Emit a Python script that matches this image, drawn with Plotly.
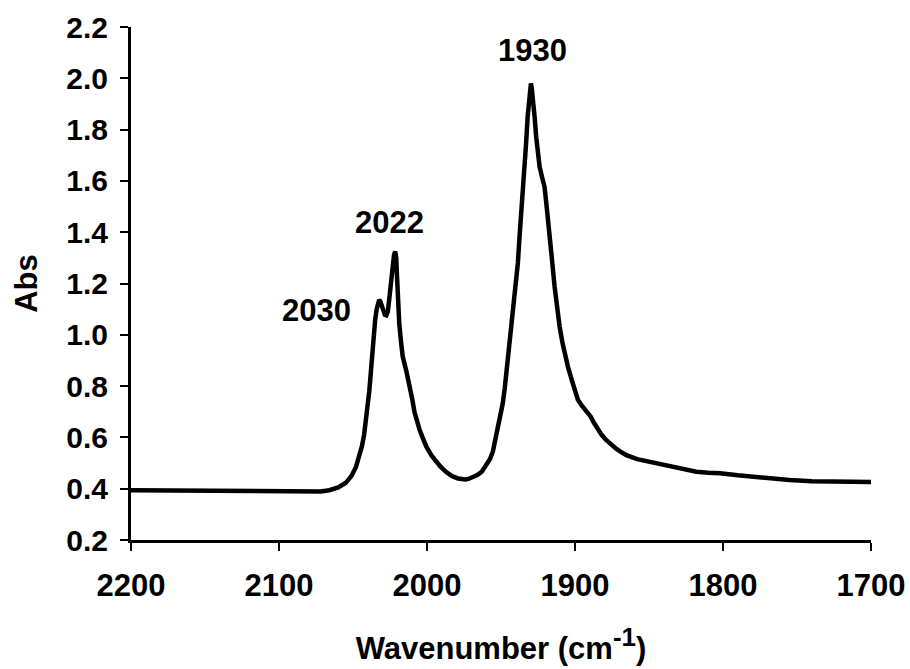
import plotly.graph_objects as go

wavenumber = [2200, 2175, 2150, 2125, 2100, 2085, 2076, 2072, 2066, 2060, 2055, 2051, 2048,
              2046, 2044, 2042.5, 2041, 2040, 2039, 2038, 2037, 2036, 2035, 2034, 2033,
              2032.3, 2031.5, 2030.5, 2029.5, 2028.5, 2027.5, 2026.5, 2025.5, 2024.5, 2023.5,
              2022.3, 2021.5, 2020.8, 2020.2, 2019.5, 2018.7, 2017.5, 2016.4, 2014, 2012,
              2010, 2008.5, 2007, 2005, 2003, 2000.5, 1997, 1994, 1991, 1987, 1983, 1979,
              1976, 1974, 1972, 1969, 1966, 1963, 1960, 1957.5, 1955.5, 1953.5, 1952, 1950,
              1948.8, 1947.5, 1946, 1944.2, 1942, 1940.5, 1939.7, 1938.6, 1937.5, 1936.3,
              1935.2, 1934, 1933, 1932, 1931, 1930.3, 1929.8, 1929.2, 1928.2, 1927.3, 1926.2,
              1925, 1923.9, 1922.3, 1920.6, 1919.5, 1918.3, 1917.2, 1915.5, 1913.8, 1912,
              1910.4, 1908.5, 1906.5, 1904.8, 1902, 1900, 1898, 1895.5, 1893.5, 1891.3,
              1889.5, 1887.5, 1885.6, 1882, 1879, 1876.6, 1872, 1868, 1865.3, 1858, 1849.5,
              1843, 1836, 1827, 1818, 1810, 1802, 1790, 1780, 1770, 1755, 1740, 1725, 1710,
              1700]
absorbance = [0.394, 0.393, 0.392, 0.391, 0.389, 0.388, 0.388, 0.389, 0.394, 0.405, 0.422,
              0.45, 0.485, 0.52, 0.565, 0.61, 0.67, 0.72, 0.78, 0.85, 0.93, 1.0, 1.06, 1.1,
              1.125, 1.136, 1.13, 1.11, 1.09, 1.078, 1.076, 1.09, 1.14, 1.2, 1.26, 1.31,
              1.325, 1.3, 1.22, 1.12, 1.04, 0.97, 0.915, 0.86, 0.81, 0.75, 0.70, 0.665, 0.63,
              0.6, 0.565, 0.53, 0.505, 0.487, 0.465, 0.449, 0.44, 0.437, 0.436, 0.438, 0.444,
              0.453, 0.466, 0.49, 0.515, 0.545, 0.6, 0.64, 0.694, 0.733, 0.79, 0.87, 0.967,
              1.09, 1.16, 1.188, 1.28, 1.38, 1.47, 1.552, 1.65, 1.75, 1.85, 1.93, 1.975, 1.98,
              1.96, 1.91, 1.85, 1.77, 1.7, 1.655, 1.615, 1.577, 1.52, 1.46, 1.396, 1.29, 1.188,
              1.1, 1.032, 0.97, 0.915, 0.876, 0.82, 0.78, 0.746, 0.725, 0.712, 0.70, 0.682,
              0.66, 0.642, 0.61, 0.59, 0.577, 0.555, 0.54, 0.531, 0.515, 0.505, 0.495, 0.486,
              0.476, 0.466, 0.462, 0.46, 0.452, 0.446, 0.44, 0.434, 0.429, 0.427, 0.426, 0.426]

peak_labels = ["2030", "2022", "1930"]
peak_label_x = [2075, 2025.5, 1929]
peak_label_y = [1.093, 1.436, 2.11]

x_ticks = [2200, 2100, 2000, 1900, 1800, 1700]
y_ticks = [0.2, 0.4, 0.6, 0.8, 1.0, 1.2, 1.4, 1.6, 1.8, 2.0, 2.2]

FONT = "Liberation Sans, Arial, sans-serif"

fig = go.Figure()
fig.add_trace(go.Scatter(x=wavenumber, y=absorbance, mode="lines",
                         line=dict(color="black", width=4.5), showlegend=False))

for t, x, y in zip(peak_labels, peak_label_x, peak_label_y):
    fig.add_annotation(x=x, y=y, text=t, showarrow=False,
                       font=dict(family=FONT, size=31, color="black", weight="bold"))

fig.update_layout(
    width=910, height=669,
    margin=dict(l=131, r=39, t=27, b=129),
    paper_bgcolor="white", plot_bgcolor="white",
    xaxis=dict(range=[2200, 1700], tickvals=x_ticks, ticktext=[str(v) for v in x_ticks],
               automargin=False,
               showgrid=False, zeroline=False, showline=True, linecolor="black", linewidth=3,
               ticks="outside", ticklen=8, tickwidth=2, tickcolor="black",
               ticklabelstandoff=8,
               tickfont=dict(family=FONT, size=31, color="black", weight="bold"),
               title=dict(text="Wavenumber (cm<sup><span style='font-size:26px'>-1</span></sup>)",
                          standoff=36,
                          font=dict(family=FONT, size=31, color="black", weight="bold"))),
    yaxis=dict(range=[0.2, 2.2], tickvals=y_ticks, ticktext=[f"{v:.1f}" for v in y_ticks],
               automargin=False,
               showgrid=False, zeroline=False, showline=True, linecolor="black", linewidth=3,
               ticks="outside", ticklen=8, tickwidth=2, tickcolor="black",
               ticklabelstandoff=6,
               tickfont=dict(family=FONT, size=30, color="black", weight="bold"),
               title=dict(text="Abs", standoff=20,
                          font=dict(family=FONT, size=31, color="black", weight="bold"))),
)

fig.write_html("out.html")
